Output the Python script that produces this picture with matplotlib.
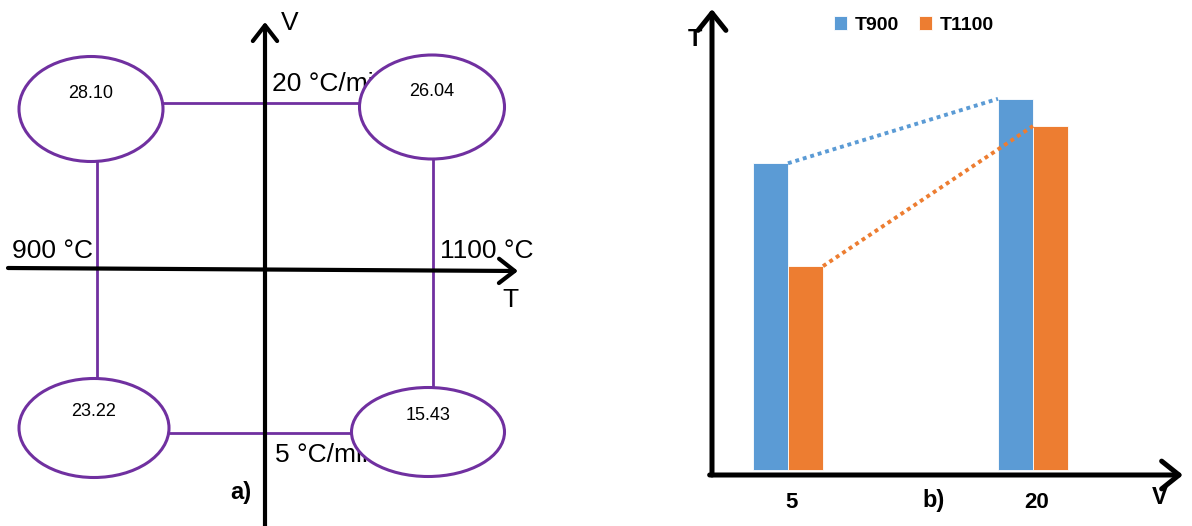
import numpy as np
import matplotlib
matplotlib.use('Agg')
import matplotlib.pyplot as plt
from matplotlib.patches import Ellipse

plt.rcParams['font.family'] = ['Liberation Sans', 'DejaVu Sans']

# datos
temperaturas = ['900 °C', '1100 °C']
velocidades = ['20 °C/min', '5 °C/min']
# valores [velocidad][temperatura]
valores = [[28.10, 26.04],
           [23.22, 15.43]]

categorias = ['5', '20']
t900 = [23.22, 28.10]
t1100 = [15.43, 26.04]

azul = '#5B9BD5'
naranja = '#ED7D31'
morado = '#7030A0'

fig = plt.figure(figsize=(11.92, 5.26), dpi=100)

# ---------- a) diagrama (coordenadas en pixeles) ----------
ax = fig.add_axes([0, 0, 1, 1])
ax.set_xlim(0, 1192)
ax.set_ylim(526, 0)
ax.axis('off')

# posiciones de las elipses por fila/columna
cx = [[91, 432], [94, 428]]
cy = [[109, 107], [428, 432]]
ew = [[144, 145], [150, 153]]
eh = [[105, 104], [99, 89]]

# lineas moradas
ax.plot([cx[0][0], cx[0][1]], [103, 103], color=morado, lw=2, zorder=1)
ax.plot([cx[1][0], cx[1][1]], [433, 433], color=morado, lw=2, zorder=1)
ax.plot([97, 97], [cy[0][0], cy[1][0]], color=morado, lw=2, zorder=1)
ax.plot([433, 433], [cy[0][1], cy[1][1]], color=morado, lw=2, zorder=1)

# ejes con flecha
flecha = dict(arrowstyle='->,head_length=0.45,head_width=0.35', lw=3,
              color='black', shrinkA=0, shrinkB=0, mutation_scale=25)
ax.annotate('', xy=(518, 271), xytext=(8, 268), arrowprops=flecha, zorder=3)
ax.annotate('', xy=(265, 22), xytext=(265, 526), arrowprops=flecha, zorder=3)

ax.text(290, 23, 'V', fontsize=19, ha='center', va='center')
ax.text(510, 300, 'T', fontsize=19, ha='center', va='center')
ax.text(12, 258, temperaturas[0], fontsize=19, ha='left', va='baseline')
ax.text(440, 258, temperaturas[1], fontsize=19, ha='left', va='baseline')
ax.text(272, 91, velocidades[0], fontsize=19, ha='left', va='baseline', zorder=2)
ax.text(275, 462, velocidades[1], fontsize=19, ha='left', va='baseline', zorder=2)
ax.text(241, 493, 'a)', fontsize=17, fontweight='bold', ha='center', va='center')

for i in range(2):
    for j in range(2):
        e = Ellipse((cx[i][j], cy[i][j]), ew[i][j], eh[i][j], facecolor='white',
                    edgecolor=morado, lw=2.2, zorder=4)
        ax.add_patch(e)
        ax.text(cx[i][j], cy[i][j] - 16, f'{valores[i][j]:.2f}', fontsize=13,
                ha='center', va='center', zorder=5)

# ---------- b) grafico de barras ----------
W, H = 1192, 526
axb = fig.add_axes([712 / W, (H - 475) / H, (1183 - 712) / W, (475 - 9) / H])
axb.patch.set_alpha(0)
x = np.arange(len(categorias))
w = 0.143
axb.bar(x - w / 2, t900, w, color=azul, label='T900', edgecolor='white', lw=0.6)
axb.bar(x + w / 2, t1100, w, color=naranja, label='T1100', edgecolor='white', lw=0.6)

# lineas punteadas entre grupos
axb.plot([x[0], x[1] - w], [t900[0], t900[1]], color=azul, lw=2.8,
         linestyle=(0, (1, 1)), dash_capstyle='butt')
axb.plot([x[0] + w, x[1]], [t1100[0], t1100[1]], color=naranja, lw=2.8,
         linestyle=(0, (1, 1)), dash_capstyle='butt')

axb.set_xlim(-0.310, 1.612)
axb.set_ylim(-0.38, 34.9)
for s in axb.spines.values():
    s.set_visible(False)
axb.set_yticks([])
axb.set_xticks(x + 0.015)
axb.set_xticklabels(categorias, fontsize=16, fontweight='bold')
axb.tick_params(axis='x', length=0, pad=12)

flecha2 = dict(arrowstyle='->,head_length=0.5,head_width=0.4', lw=3.6,
               color='black', shrinkA=0, shrinkB=0, mutation_scale=25)
axb.annotate('', xy=(0, 1), xytext=(0, 0), xycoords='axes fraction',
             arrowprops=flecha2)
axb.annotate('', xy=(1, 0), xytext=(-0.005, 0), xycoords='axes fraction',
             arrowprops=flecha2)

ax.text(695, 39, 'T', fontsize=17, fontweight='bold', ha='center', va='center')
ax.text(1160, 498, 'V', fontsize=17, fontweight='bold', ha='center', va='center')
ax.text(934, 500, 'b)', fontsize=17, fontweight='bold', ha='center', va='center')

axb.legend(loc='center', bbox_to_anchor=(914 / W, 1 - 25 / H),
           bbox_transform=fig.transFigure, ncol=2, frameon=False,
           prop={'weight': 'bold', 'size': 14}, handlelength=0.7,
           handleheight=0.7, handletextpad=0.4, columnspacing=1.0)

plt.savefig('out.png', dpi=100)
